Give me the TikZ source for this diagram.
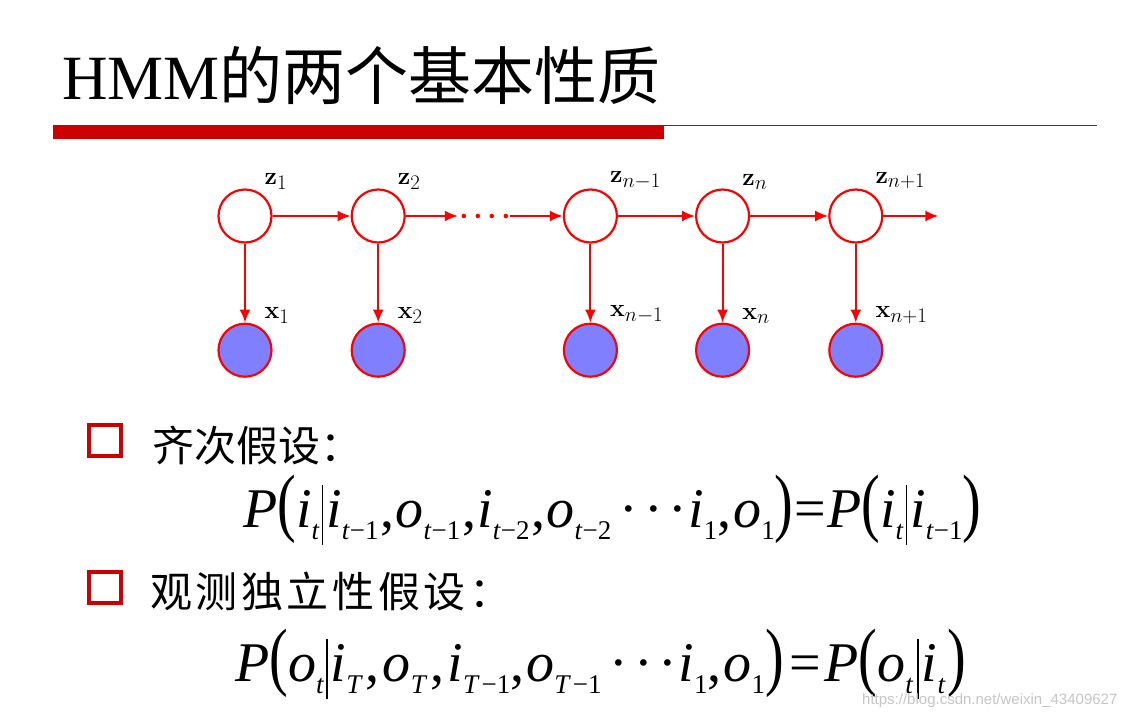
\documentclass[tikz,border=0pt]{standalone}
\usepackage[no-math]{fontspec}
\setmainfont{Liberation Serif}
\newfontfamily\cjkfont{Noto Sans CJK SC}
\newfontfamily\markfont{Liberation Sans}
\usepackage{graphicx}
\usetikzlibrary{positioning}
\usetikzlibrary{arrows.meta}

\definecolor{barred}{HTML}{CC0000}
\definecolor{nodered}{HTML}{FF0000}
\definecolor{obsblue}{HTML}{8080FF}

\newcommand{\iv}[1]{\textit{#1}}
\newcommand{\lo}[1]{\raisebox{-12pt}{\fontsize{27}{27}\selectfont #1}}
\newcommand{\bp}[1]{\scalebox{1}[1.35]{#1}}
\newcommand{\vb}{\kern2pt\rule[-18pt]{1.6pt}{60pt}\kern3pt}
\newcommand{\cdd}{\kern8pt·\kern6pt·\kern6pt·\kern1pt}
\newcommand{\eqs}{\kern1pt=\kern1pt}

\begin{document}
\begin{tikzpicture}[x=1pt,y=-1pt,>={Latex[length=13pt,width=11pt]},
    Z/.style={draw=nodered,line width=2.2pt,fill=white, circle, minimum size=53pt, inner sep=0pt},
    X/.style={draw=nodered,line width=2.2pt,fill=obsblue, circle, minimum size=53pt, inner sep=0pt},
    L/.style={inner sep=0pt, font=\fontsize{28}{30}\selectfont},
    R/.style={nodered, line width=2pt}]
    \fill[white] (0,0) rectangle (1140,718);

    \node[anchor=base west, inner sep=0pt, font=\fontsize{63}{63}\selectfont] (title) at (62,99) {HMM{\cjkfont 的两个基本性质}};
    \fill[barred] (53,125) rectangle (664,139);
    \draw[barred, line width=1.2pt] (664,125.6) -- (1097,125.6);

    \node[Z] (z1) at (245,216) {};
    \node[Z] (z2) [right=78pt of z1] {};
    \node[Z] (zm) [right=157pt of z2] {};
    \node[Z] (zn) [right=77pt of zm] {};
    \node[Z] (zp) [right=78pt of zn] {};

    \node[X] (x1) [below=79pt of z1] {};
    \node[X] (x2) [below=79pt of z2] {};
    \node[X] (xm) [below=79pt of zm] {};
    \node[X] (xn) [below=79pt of zn] {};
    \node[X] (xp) [below=79pt of zp] {};

    \node[L, above right=7pt and 0pt of z1] (lz1) {$\mathbf{z}_1$};
    \node[L, above right=7pt and 0pt of z2] (lz2) {$\mathbf{z}_2$};
    \node[L, above right=7pt and 0pt of zm] (lzm) {$\mathbf{z}_{n-1}$};
    \node[L, above right=7pt and 0pt of zn] (lzn) {$\mathbf{z}_n$};
    \node[L, above right=7pt and 0pt of zp] (lzp) {$\mathbf{z}_{n+1}$};
    \node[L, above right=7pt and 0pt of x1] (lx1) {$\mathbf{x}_1$};
    \node[L, above right=7pt and 0pt of x2] (lx2) {$\mathbf{x}_2$};
    \node[L, above right=7pt and 0pt of xm] (lxm) {$\mathbf{x}_{n-1}$};
    \node[L, above right=7pt and 0pt of xn] (lxn) {$\mathbf{x}_n$};
    \node[L, above right=7pt and 0pt of xp] (lxp) {$\mathbf{x}_{n+1}$};

    \coordinate[right=52pt of z2] (dA);
    \coordinate[left=53pt of zm] (dB);
    \coordinate[right=55pt of zp] (zend);

    \draw[R, ->] (z1) -- (z2);
    \draw[R, ->] (z2) -- (dA);
    \fill[nodered] ([xshift=6pt]dA) circle (2.3pt) ([xshift=20pt]dA) circle (2.3pt)
        ([xshift=34pt]dA) circle (2.3pt) ([xshift=48pt]dA) circle (2.3pt);
    \draw[R, ->] (dB) -- (zm);
    \draw[R, ->] (zm) -- (zn);
    \draw[R, ->] (zn) -- (zp);
    \draw[R, ->] (zp) -- (zend);

    \draw[R, ->] (z1) -- (x1);
    \draw[R, ->] (z2) -- (x2);
    \draw[R, ->] (zm) -- (xm);
    \draw[R, ->] (zn) -- (xn);
    \draw[R, ->] (zp) -- (xp);

    \draw[barred, line width=4pt] (89,425) rectangle (121,456);
    \node[anchor=base west, inner sep=0pt, font=\cjkfont\fontsize{42}{42}\selectfont] (h1) at (152,461) {齐次假设：};
    \node[anchor=base west, inner sep=0pt, font=\fontsize{56}{56}\selectfont] (f1) at (243,527)
        {\iv{P}\bp{(}\iv{i}\lo{\iv{t}}\vb\iv{i}\lo{\iv{t}−1\kern2pt},\kern1pt\iv{o}\lo{\iv{t}−1\kern2pt},\kern1pt\iv{i}\lo{\iv{t}−2\kern2pt},\kern1pt\iv{o}\lo{\iv{t}−2}\cdd\iv{i}\lo{1},\kern2pt\iv{o}\lo{1}\bp{)}\eqs\iv{P}\bp{(}\iv{i}\lo{\iv{t}}\vb\iv{i}\lo{\iv{t}−1}\bp{)}};

    \draw[barred, line width=4pt] (89,572) rectangle (121,603);
    \node[anchor=base west, inner sep=0pt, font=\cjkfont\fontsize{42}{42}\selectfont] (h2) at (150,607)
        {观\kern3.6pt 测\kern3.6pt 独\kern3.6pt 立\kern3.6pt 性\kern3.6pt 假\kern3.6pt 设\kern3.6pt ：};
    \node[anchor=base west, inner sep=0pt, font=\fontsize{56}{56}\selectfont] (f2) at (235,681)
        {\iv{P}\bp{(}\iv{o}\lo{\iv{t}}\vb\iv{i}\lo{\iv{T}\kern3pt},\kern3pt\iv{o}\lo{\iv{T}\kern3pt},\kern3pt\iv{i}\lo{\iv{T}\kern2pt−1},\kern2pt\iv{o}\lo{\iv{T}\kern2pt−1}\cdd\iv{i}\lo{1},\kern2pt\iv{o}\lo{1}\bp{)}\kern6pt=\kern3pt\iv{P}\bp{(}\iv{o}\lo{\iv{t}\kern2pt}\vb\iv{i}\lo{\iv{t}\kern2pt}\bp{)}};

    \node[anchor=base west, inner sep=0pt, font=\markfont\fontsize{15}{15}\selectfont, text=gray!45] (wm) at (862,704) {https://blog.csdn.net/weixin\_43409627};
\end{tikzpicture}
\end{document}
